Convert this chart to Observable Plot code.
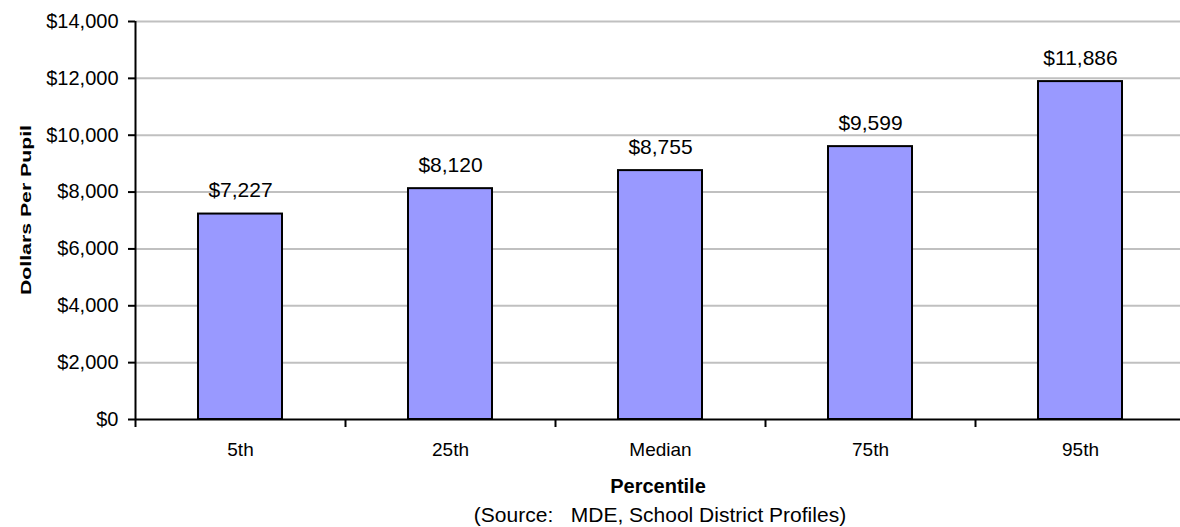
<!DOCTYPE html>
<html>
<head>
<meta charset="utf-8">
<script src="https://cdn.jsdelivr.net/npm/d3@7"></script>
<script src="https://cdn.jsdelivr.net/npm/@observablehq/plot@0.6"></script>
<style>
  html, body { margin: 0; padding: 0; background: #ffffff; }
  #wrap { position: relative; width: 1180px; height: 527px; overflow: hidden; font-family: "Liberation Sans", Arial, sans-serif; color: #000; }
  .lbl { position: absolute; white-space: pre; transform: translateX(-50%); line-height: 1; }
</style>
</head>
<body>
<div id="wrap">
  <div id="chart"></div>
  <div class="lbl" id="xtitle" style="left:658px; top:476px; font-size:20px; font-weight:bold;">Percentile</div>
  <div class="lbl" id="source" style="left:660px; top:504px; font-size:21px;">(Source:   MDE, School District Profiles)</div>
</div>
<script>
const categories = ["5th", "25th", "Median", "75th", "95th"];
const values = [7227, 8120, 8755, 9599, 11886];
const yTicks = [0, 2000, 4000, 6000, 8000, 10000, 12000, 14000];
const yTitle = "Dollars Per Pupil";

const data = categories.map((c, i) => ({cat: c, value: values[i]}));
const money = d => "$" + d3.format(",")(d);

const W = 1180, H = 470, mL = 135, mR = -5, mT = 21, mB = 51;
const step = (W - mL - mR) / categories.length;
const plotH = H - mT - mB;

const chart = Plot.plot({
  width: W, height: H,
  marginLeft: mL, marginRight: mR, marginTop: mT, marginBottom: mB,
  style: {fontFamily: "'Liberation Sans', Arial, sans-serif", fontSize: "19px", color: "black", background: "white", overflow: "visible"},
  x: {domain: categories, paddingInner: 0.6, paddingOuter: 0.3, label: null, tickSize: 0, tickPadding: 23},
  y: {domain: [0, 14000], ticks: yTicks, tickFormat: money, label: null, tickSize: 7, tickPadding: 10},
  marks: [
    Plot.ruleY(yTicks.filter(d => d > 0), {stroke: "#c0c0c0", strokeWidth: 2}),
    Plot.barY(data, {x: "cat", y: "value", fill: "#9999ff", stroke: "black", strokeWidth: 2}),
    Plot.text(data, {x: "cat", y: "value", text: d => money(d.value), lineAnchor: "bottom", dy: -17, fontSize: 21}),
    Plot.ruleY([0], {stroke: "black", strokeWidth: 2}),
    Plot.ruleX([categories[0]], {x: d => d, dx: -step / 2, stroke: "black", strokeWidth: 2}),
    Plot.ruleX(categories, {x: d => d, dx: -step / 2, insetTop: plotH, insetBottom: -8, stroke: "black", strokeWidth: 2})
  ]
});
document.getElementById("chart").appendChild(chart);

const svg = d3.select(chart);
svg.selectAll("[aria-label='y-axis tick'] path, [aria-label='y-axis tick'] line").attr("stroke-width", 2);
svg.selectAll("[aria-label='y-axis tick label']").attr("font-size", 20);
svg.selectAll("[aria-label='y-axis tick label'] text").attr("font-size", 20);
svg.append("text")
  .attr("transform", "translate(31,210) rotate(-90)")
  .attr("text-anchor", "middle")
  .attr("font-family", "'Liberation Sans', Arial, sans-serif")
  .attr("font-weight", "bold")
  .attr("font-size", 15)
  .attr("textLength", 170)
  .attr("lengthAdjust", "spacingAndGlyphs")
  .attr("fill", "black")
  .text(yTitle);
</script>
</body>
</html>
